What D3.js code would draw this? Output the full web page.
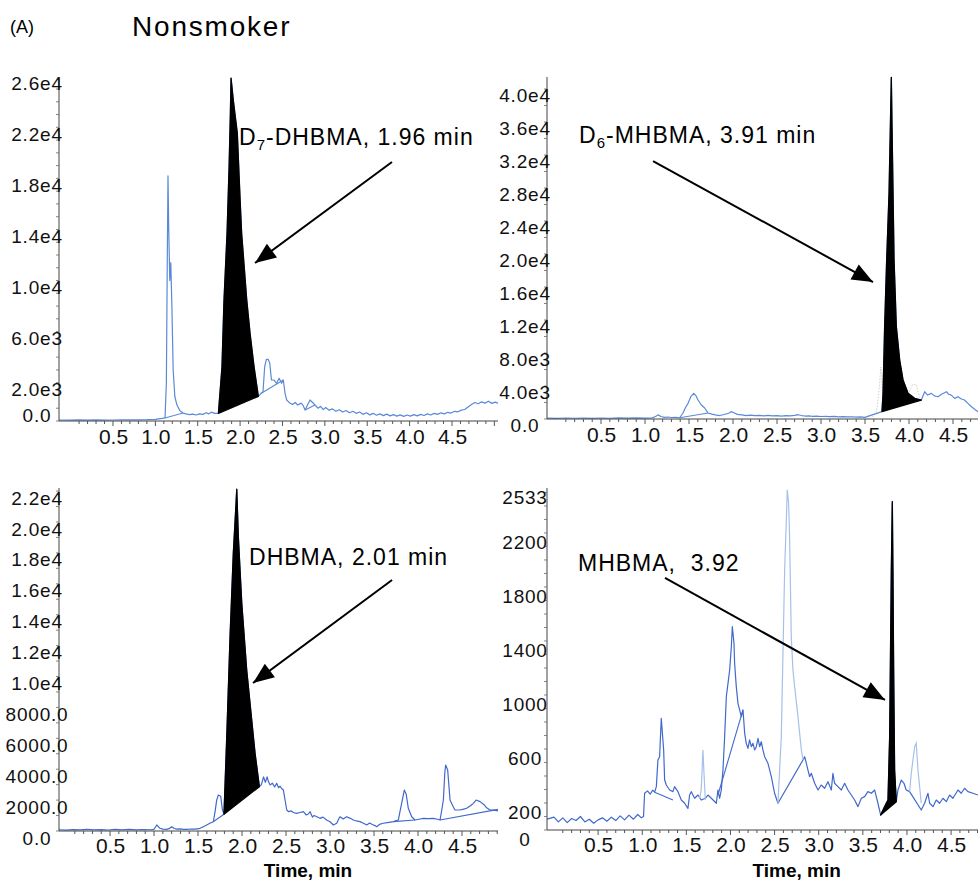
<!DOCTYPE html>
<html>
<head>
<meta charset="utf-8">
<script src="https://cdn.jsdelivr.net/npm/d3@7/dist/d3.min.js"></script>
<style>
  html, body { margin: 0; padding: 0; background: #fff; }
  svg { display: block; font-family: "Liberation Sans", Arial, sans-serif; }
</style>
</head>
<body>
<svg id="chart" width="978" height="883"></svg>
<script>
// ---------------- DATA (time in min, intensity in cps) ----------------
const xTickValues = [0.5, 1.0, 1.5, 2.0, 2.5, 3.0, 3.5, 4.0, 4.5];

// Panel A : D7-DHBMA
const aYTicks = [26000, 22000, 18000, 14000, 10000, 6000, 2000, 0];
const aYLabels = ["2.6e4", "2.2e4", "1.8e4", "1.4e4", "1.0e4", "6.0e3", "2.0e3", "0.0"];
const aTrace = [
[-0.137,80],[0.0,70],[0.1,90],[0.2,75],[0.3,85],[0.4,70],[0.5,80],[0.6,90],[0.7,85],[0.8,95],[0.9,100],[1.0,130],[1.08,200],[1.114,240],
[1.13,3000],[1.14,12000],[1.149,19200],[1.158,15000],[1.17,11000],[1.182,12400],[1.195,9000],[1.21,4000],[1.23,1900],[1.255,1250],[1.29,800],[1.326,620],
[1.36,560],[1.40,500],[1.44,540],[1.48,470],[1.52,560],[1.56,520],[1.60,650],[1.63,560],[1.66,690],[1.70,600],[1.744,600],
[1.786,4230],[1.81,9480],[1.846,14720],[1.87,19890],[1.885,24000],[1.893,26850],[1.92,25100],[1.967,22530],[2.0,17310],[2.018,14700],[2.078,9490],[2.117,6880],[2.164,4270],[2.215,1930],
[2.245,2150],[2.27,2295],[2.29,4250],[2.31,4830],[2.33,4830],[2.35,4520],[2.37,3210],[2.40,3210],[2.43,2950],[2.46,3340],[2.49,2950],[2.51,3210],[2.53,2170],[2.55,1645],[2.59,1385],
[2.62,1300],[2.65,1450],[2.68,1250],[2.72,1400],[2.745,1200],[2.766,860],[2.825,1645],[2.884,1250],
[2.92,1000],[2.95,1150],[2.98,900],[3.01,1050],[3.05,850],[3.09,950],[3.13,760],[3.17,880],[3.21,700],[3.25,820],[3.29,650],[3.33,760],[3.37,600],[3.41,700],[3.45,520],[3.49,640],[3.53,480],[3.57,600],[3.61,450],[3.65,560],[3.69,420],[3.73,540],[3.77,400],[3.81,500],[3.85,380],[3.89,480],[3.93,360],[3.97,470],[4.01,380],[4.05,500],[4.09,400],[4.13,520],[4.17,430],[4.21,560],[4.25,470],[4.29,600],[4.33,520],[4.37,640],[4.41,560],[4.45,680],[4.49,620],[4.53,760],[4.57,720],[4.61,850],[4.65,900],[4.69,1100],[4.73,1300],[4.77,1450],[4.81,1350],[4.85,1500],[4.89,1400],[4.93,1550],[4.97,1380],[5.01,1480],[5.043,1400]
];
const aPeak = [1.744, 2.215];
const aBaselines = [[[1.114,240],[1.326,620]], [[2.245,2150],[2.51,3210]], [[2.766,860],[2.884,1250]]];

// Panel B : D6-MHBMA
const bYTicks = [40000, 36000, 32000, 28000, 24000, 20000, 16000, 12000, 8000, 4000, 0];
const bYLabels = ["4.0e4", "3.6e4", "3.2e4", "2.8e4", "2.4e4", "2.0e4", "1.6e4", "1.2e4", "8.0e3", "4.0e3", "0.0"];
const bTrace = [
[-0.114,100],[0.0,80],[0.1,120],[0.2,90],[0.3,110],[0.4,80],[0.5,120],[0.6,90],[0.7,130],[0.8,100],[0.9,140],[1.0,110],[1.08,130],[1.12,300],[1.148,500],[1.18,300],[1.22,200],[1.26,240],[1.30,180],[1.35,200],[1.394,150],
[1.43,700],[1.46,1400],[1.489,1900],[1.52,2700],[1.553,3110],[1.58,2800],[1.602,2300],[1.64,1700],[1.678,1330],[1.716,730],[1.76,600],[1.80,500],[1.848,420],[1.90,550],[1.95,700],[1.977,890],[2.01,750],[2.05,560],[2.1,500],[2.15,420],[2.2,480],[2.25,400],[2.3,440],[2.35,380],[2.4,430],[2.45,370],[2.5,420],[2.55,350],[2.6,400],[2.65,380],[2.7,450],[2.739,520],[2.78,420],[2.82,360],[2.86,390],[2.9,330],[2.95,360],[3.0,300],[3.05,330],[3.1,280],[3.15,310],[3.2,260],[3.25,290],[3.3,250],[3.35,270],[3.4,230],[3.45,250],[3.497,200],
[3.693,890],[3.705,3110],[3.723,11190],[3.746,19270],[3.773,27350],[3.788,35430],[3.799,41400],[3.807,35430],[3.830,19270],[3.856,11190],[3.894,7150],[3.932,4730],[3.989,3110],[4.064,2500],[4.140,2300],
[4.178,3310],[4.21,2900],[4.254,3110],[4.29,2800],[4.33,2700],[4.37,3000],[4.424,3310],[4.45,3000],[4.48,2900],[4.52,2500],[4.557,2700],[4.59,2450],[4.63,2300],[4.67,1900],[4.71,1490],[4.75,1150],[4.784,890]
];
const bPeak = [3.693, 4.140];
const bBaselines = [[[1.394,150],[1.716,730]]];
const bFaint = [[[3.58,200],[3.63,800],[3.66,3500],[3.68,6300],[3.70,3000]], [[3.99,3000],[4.04,4200],[4.08,4200],[4.12,2600]]];

// Panel C : DHBMA
const cYTicks = [22000, 20000, 18000, 16000, 14000, 12000, 10000, 8000, 6000, 4000, 2000, 0];
const cYLabels = ["2.2e4", "2.0e4", "1.8e4", "1.6e4", "1.4e4", "1.2e4", "1.0e4", "8000.0", "6000.0", "4000.0", "2000.0", "0.0"];
const cTrace = [
[-0.08,80],[0.0,60],[0.08,95],[0.16,70],[0.24,100],[0.32,75],[0.40,95],[0.48,65],[0.56,100],[0.64,75],[0.72,100],[0.80,70],[0.88,95],[0.96,80],[1.0,110],[1.031,390],[1.068,175],[1.10,120],[1.144,110],[1.17,150],[1.201,280],[1.23,160],[1.258,120],[1.30,140],[1.33,110],[1.371,100],[1.42,130],[1.47,120],[1.523,175],[1.56,280],[1.598,390],[1.635,500],[1.674,600],[1.695,1300],[1.712,2000],[1.731,2330],[1.758,2250],[1.776,1400],[1.795,1080],
[1.826,6040],[1.864,12580],[1.901,17970],[1.932,21210],[1.940,22120],[1.958,19050],[1.997,14740],[2.053,10420],[2.110,7180],[2.148,5030],[2.197,2870],
[2.22,3000],[2.245,3500],[2.265,3150],[2.285,3500],[2.30,3200],[2.32,2980],[2.345,3100],[2.37,2850],[2.394,3085],[2.415,2800],[2.432,2900],[2.45,2750],[2.47,2650],[2.489,2005],[2.508,1360],[2.53,1250],[2.56,1300],[2.583,1200],[2.62,1145],[2.659,1200],[2.697,1250],[2.73,1035],[2.754,1100],[2.773,1250],[2.80,900],[2.82,1000],[2.849,925],[2.886,820],[2.92,900],[2.962,710],[3.0,600],[3.038,390],[3.076,500],[3.10,800],[3.114,925],[3.15,780],[3.189,925],[3.23,820],[3.265,710],[3.30,650],[3.341,605],[3.38,500],[3.417,390],[3.45,520],[3.48,420],[3.51,350],[3.53,280],[3.57,450],[3.606,500],[3.65,540],[3.69,580],[3.72,605],[3.776,710],[3.80,1400],[3.814,1790],[3.844,2650],[3.865,2400],[3.89,1470],[3.928,925],[3.966,710],[4.01,760],[4.06,820],[4.12,800],[4.174,820],[4.22,760],[4.25,710],[4.27,1360],[4.288,2005],[4.305,3800],[4.314,4270],[4.337,3950],[4.364,2005],[4.40,1575],[4.42,1360],[4.477,1360],[4.52,1420],[4.553,1470],[4.60,1650],[4.628,1790],[4.66,2005],[4.705,1900],[4.75,1700],[4.78,1500],[4.818,1360],[4.86,1350],[4.909,1300]
];
const cPeak = [1.795, 2.197];
const cBaselines = [[[1.674,600],[1.795,1080]], [[3.72,605],[3.966,710]], [[4.25,710],[4.909,1400]]];

// Panel D : MHBMA
const dYTicks = [2533, 2200, 1800, 1400, 1000, 600, 200, 0];
const dYLabels = ["2533", "2200", "1800", "1400", "1000", "600", "200", "0"];
const dTrace = [
[-0.079,80],[0.0,95],[0.05,60],[0.1,90],[0.15,55],[0.2,85],[0.25,70],[0.3,100],[0.35,60],[0.4,80],[0.45,50],[0.5,75],[0.55,90],[0.6,65],[0.65,95],[0.7,70],[0.75,105],[0.8,75],[0.85,110],[0.9,80],[0.95,115],[0.99,90],[1.015,100],
[1.027,272],[1.06,290],[1.09,265],[1.12,295],[1.141,280],[1.16,321],[1.178,519],[1.197,543],[1.216,827],[1.243,593],[1.254,370],[1.273,333],[1.311,296],[1.348,284],[1.367,321],[1.405,284],[1.443,222],[1.481,198],[1.518,160],[1.537,259],[1.556,284],[1.594,235],[1.632,259],[1.669,222],[1.715,235],[1.745,259],[1.783,235],[1.840,198],[1.858,296],[1.877,235],[1.896,296],[1.915,444],[1.934,691],[1.953,988],[1.972,1086],[1.991,1185],[2.010,1358],[2.021,1506],[2.040,1383],[2.047,1235],[2.066,1062],[2.085,938],[2.123,840],[2.142,889],[2.161,716],[2.179,642],[2.198,605],[2.217,667],[2.236,617],[2.255,642],[2.274,593],[2.293,617],[2.312,679],[2.331,617],[2.349,654],[2.368,593],[2.387,543],[2.425,494],[2.463,395],[2.500,272],[2.538,198],
[2.822,519],[2.841,543],[2.860,494],[2.878,444],[2.897,395],[2.916,420],[2.954,346],[2.992,296],[3.029,333],[3.067,309],[3.105,358],[3.143,296],[3.161,420],[3.180,346],[3.218,321],[3.256,296],[3.294,346],[3.331,296],[3.369,259],[3.407,222],[3.445,173],[3.483,235],[3.520,247],[3.558,284],[3.596,272],[3.634,296],[3.671,198],[3.702,111],
[3.747,173],[3.766,198],[3.785,222],[3.804,691],[3.823,1926],[3.834,2432],[3.841,1926],[3.849,1185],[3.860,444],[3.879,210],
[3.898,296],[3.936,370],[3.966,346],[3.992,296],[4.030,284],[4.162,148],[4.200,198],[4.238,272],[4.257,198],[4.295,173],[4.332,222],[4.370,198],[4.408,235],[4.446,210],[4.483,259],[4.521,235],[4.578,296],[4.615,272],[4.653,309],[4.691,284],[4.748,272],[4.805,259]
];
const dPeak = [3.702, 3.879];
const dBaselines = [[[1.141,280],[1.348,222]], [[1.858,259],[2.142,889]]];
const dLight = [
  [[1.650,230],[1.669,300],[1.688,593],[1.700,420],[1.715,222]],
  [[2.538,198],[2.576,691],[2.614,1926],[2.633,2296],[2.644,2519],[2.659,2420],[2.670,2173],[2.689,1432],[2.708,1185],[2.727,1062],[2.765,840],[2.803,593],[2.822,519]],
  [[4.030,284],[4.049,420],[4.087,617],[4.105,642],[4.125,444],[4.162,198]]
];

// Annotations: text anchored at (time, intensity); arrow from -> to
const annotations = {
  A: { main: "D", sub: "7", rest: "-DHBMA, 1.96 min", at: [1.987, 21615], from: [3.792, 20280], to: [2.176, 12370] },
  B: { main: "D", sub: "6", rest: "-MHBMA, 3.91 min", at: [0.25, 33455], from: [1.091, 31270], to: [3.591, 16600] },
  C: { main: "DHBMA, 2.01 min", sub: "", rest: "", at: [2.08, 17217], from: [3.705, 16250], to: [2.125, 9580] },
  D: { main: "MHBMA,\u00a0 3.92", sub: "", rest: "", at: [0.272, 1918], from: [1.258, 1867], to: [3.751, 963] }
};

// ---------------- LAYOUT ----------------
const panels = [
  { key: "A", x0: 59,  x1: 498, yb: 421, yt: 78,  xDom: [-0.137, 5.043], yMax: 26862, yTicks: aYTicks, yLabels: aYLabels, yMinor: 1000, trace: aTrace, peak: aPeak, baselines: aBaselines, color: "#5a89d8", labelDy: -6, xPad: 8.5, light: [], faint: [], xlabel: false },
  { key: "B", x0: 547, x1: 978, yb: 419, yt: 77,  xDom: [-0.114, 4.784], yMax: 41455, yTicks: bYTicks, yLabels: bYLabels, yMinor: 2000, trace: bTrace, peak: bPeak, baselines: bBaselines, color: "#5a89d8", labelDy: 6, xPad: 8.5, light: [], faint: bFaint, xlabel: false },
  { key: "C", x0: 59,  x1: 498, yb: 831, yt: 488, xDom: [-0.080, 4.909], yMax: 22200, yTicks: cYTicks, yLabels: cYLabels, yMinor: 1000, trace: cTrace, peak: cPeak, baselines: cBaselines, color: "#4169cb", labelDy: 7, xPad: 7, light: [], faint: [], xlabel: true },
  { key: "D", x0: 547, x1: 978, yb: 830, yt: 488, xDom: [-0.079, 4.805], yMax: 2533, yTicks: dYTicks, yLabels: dYLabels, yMinor: 100, trace: dTrace, peak: dPeak, baselines: dBaselines, color: "#4169cb", labelDy: 9, xPad: 7, light: dLight, faint: [], xlabel: true }
];

const svg = d3.select("#chart");
svg.append("rect").attr("width", 978).attr("height", 883).attr("fill", "#fff");

const defs = svg.append("defs");
defs.append("marker")
  .attr("id", "arrowhead")
  .attr("viewBox", "-22 -10 24 20")
  .attr("refX", 0).attr("refY", 0)
  .attr("markerUnits", "userSpaceOnUse")
  .attr("markerWidth", 24).attr("markerHeight", 20)
  .attr("orient", "auto")
  .append("path")
  .attr("d", "M-21,-8.5 L0,0 L-21,8.5 Z")
  .attr("fill", "#000");

// Title
svg.append("text").attr("x", 10).attr("y", 33).attr("font-size", 18).text("(A)");
svg.append("text").attr("x", 132).attr("y", 36).attr("font-size", 28).attr("letter-spacing", 1.8).text("Nonsmoker");

panels.forEach(p => {
  const x = d3.scaleLinear().domain(p.xDom).range([p.x0, p.x1]);
  const y = d3.scaleLinear().domain([0, p.yMax]).range([p.yb, p.yt]);
  const g = svg.append("g");
  const line = d3.line().x(d => x(d[0])).y(d => y(d[1]));

  // faint traces
  p.faint.forEach(f => g.append("path").attr("d", line(f)).attr("fill", "none")
    .attr("stroke", "#cfcfcf").attr("stroke-width", 1).attr("stroke-dasharray", "1.5,1.5"));

  // integration baselines
  p.baselines.forEach(b => g.append("path").attr("d", line(b)).attr("fill", "none")
    .attr("stroke", p.color).attr("stroke-width", 1.1));

  // main trace
  g.append("path").attr("d", line(p.trace)).attr("fill", "none")
    .attr("stroke", p.color).attr("stroke-width", 1.2).attr("stroke-linejoin", "round");

  // light-blue peaks
  p.light.forEach(l => g.append("path").attr("d", line(l)).attr("fill", "none")
    .attr("stroke", "#a6c0ea").attr("stroke-width", 1.2));

  // black integrated peak (trace between start & end, closed by straight baseline)
  const peakPts = p.trace.filter(d => d[0] >= p.peak[0] && d[0] <= p.peak[1]);
  g.append("path").attr("d", line(peakPts) + "Z")
    .attr("fill", "#000").attr("stroke", "#000").attr("stroke-width", 1.3)
    .attr("stroke-linejoin", "round");

  // axes lines
  g.append("line").attr("x1", p.x0).attr("x2", p.x0).attr("y1", p.yt).attr("y2", p.yb)
    .attr("stroke", "#444").attr("stroke-width", 1);
  g.append("line").attr("x1", p.x0).attr("x2", p.x1).attr("y1", p.yb).attr("y2", p.yb)
    .attr("stroke", "#444").attr("stroke-width", 1);

  // minor x ticks
  const xMinor = d3.range(0.1, p.xDom[1], 0.1);
  g.selectAll(null).data(xMinor).join("line")
    .attr("x1", d => x(d)).attr("x2", d => x(d))
    .attr("y1", p.yb).attr("y2", d => p.yb + (Math.abs(d * 2 - Math.round(d * 2)) < 1e-6 ? 5 : 3))
    .attr("stroke", "#555").attr("stroke-width", 1);
  // minor y ticks
  const yMinor = d3.range(0, p.yMax, p.yMinor);
  g.selectAll(null).data(yMinor).join("line")
    .attr("x1", p.x0 - 3).attr("x2", p.x0)
    .attr("y1", d => y(d)).attr("y2", d => y(d))
    .attr("stroke", "#666").attr("stroke-width", 0.8);

  // x axis labels
  const xAxis = d3.axisBottom(x).tickValues(xTickValues).tickFormat(d3.format(".1f"))
    .tickSize(0).tickPadding(p.xPad);
  const gx = g.append("g").attr("transform", `translate(0,${p.yb})`).call(xAxis);
  gx.select(".domain").remove();
  gx.selectAll("text").attr("font-size", 21).attr("font-family", "'Liberation Sans', Arial, sans-serif").attr("fill", "#111");

  // y axis labels
  const yAxis = d3.axisLeft(y).tickValues(p.yTicks).tickFormat((d, i) => p.yLabels[i]).tickSize(0);
  const gy = g.append("g").attr("transform", `translate(${p.x0},0)`).call(yAxis);
  gy.select(".domain").remove();
  gy.selectAll(".tick text").attr("x", -22).attr("text-anchor", "middle")
    .attr("dy", "0.32em")
    .attr("font-size", 19).attr("letter-spacing", 0.8)
    .attr("font-family", "'Liberation Sans', Arial, sans-serif").attr("fill", "#111")
    .attr("transform", `translate(0,${p.labelDy})`);

  // x title
  if (p.xlabel) {
    g.append("text").attr("x", x(2.75)).attr("y", 877).attr("text-anchor", "middle")
      .attr("font-size", 19).attr("font-weight", "bold").text("Time, min");
  }

  // annotation
  const a = annotations[p.key];
  const t = g.append("text").attr("x", x(a.at[0])).attr("y", y(a.at[1]))
    .attr("font-size", 23).attr("letter-spacing", 1).attr("fill", "#000");
  t.append("tspan").text(a.main);
  if (a.sub) {
    t.append("tspan").attr("font-size", 15).attr("dy", 5).text(a.sub);
    t.append("tspan").attr("dy", -5).text(a.rest);
  }
  g.append("line").attr("x1", x(a.from[0])).attr("y1", y(a.from[1]))
    .attr("x2", x(a.to[0])).attr("y2", y(a.to[1]))
    .attr("stroke", "#000").attr("stroke-width", 2).attr("marker-end", "url(#arrowhead)");
});
</script>
</body>
</html>
